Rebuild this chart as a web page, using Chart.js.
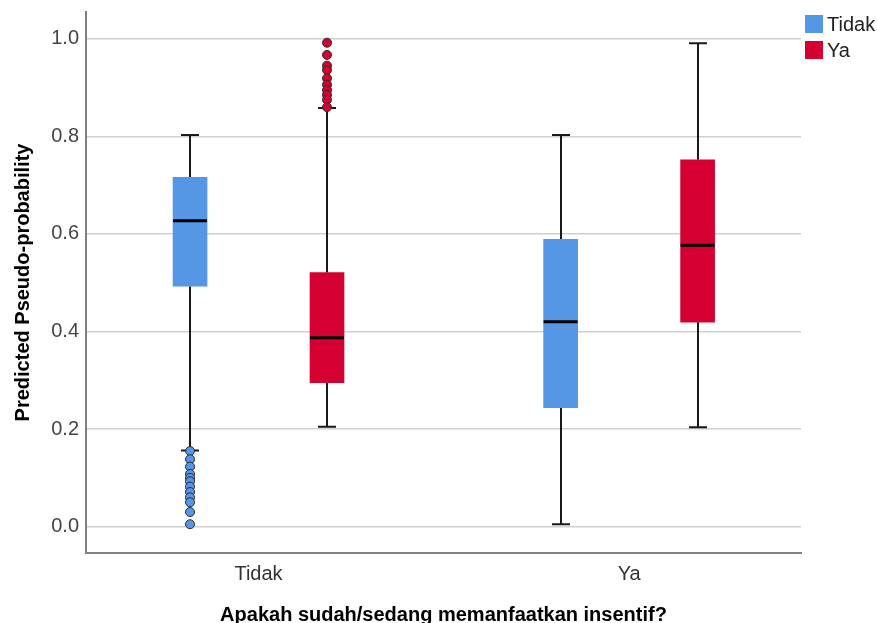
<!DOCTYPE html>
<html>
<head>
<meta charset="utf-8">
<script src="https://cdn.jsdelivr.net/npm/chart.js@4/dist/chart.umd.min.js"></script>
<style>
  html, body { margin: 0; padding: 0; background: #ffffff; }
  #wrap { width: 877px; height: 623px; }
</style>
</head>
<body>
<div id="wrap"><canvas id="c" width="877" height="623"></canvas></div>
<script>
// Groups on the x axis and the two series drawn in each group
const categories = ['Tidak', 'Ya'];
const seriesNames = ['Tidak', 'Ya'];
const seriesColors = ['#5596e5', '#d50032'];
const yTickValues = [0.0, 0.2, 0.4, 0.6, 0.8, 1.0];

// Five-number summaries, one value per category (Tidak, Ya)
const tidakLow = [0.156, 0.005];
const tidakQ1 = [0.493, 0.244];
const tidakMedian = [0.627, 0.420];
const tidakQ3 = [0.716, 0.589];
const tidakHigh = [0.803, 0.803];

const yaLow = [0.205, 0.204];
const yaQ1 = [0.295, 0.419];
const yaMedian = [0.387, 0.577];
const yaQ3 = [0.521, 0.752];
const yaHigh = [0.858, 0.991];

// Outlying cases, all in the "Tidak" category
const tidakOutliers = [0.155, 0.138, 0.123, 0.108, 0.100, 0.093, 0.082, 0.071, 0.060, 0.050, 0.030, 0.005];
const yaOutliers = [0.992, 0.967, 0.945, 0.936, 0.919, 0.906, 0.895, 0.885, 0.875, 0.860];
const outlierCategory = 0;

// Side-by-side placement of the two series inside a group (x-axis units)
const seriesShift = [-0.1848, 0.1848];

const summaries = [
  { low: tidakLow, q1: tidakQ1, med: tidakMedian, q3: tidakQ3, high: tidakHigh },
  { low: yaLow, q1: yaQ1, med: yaMedian, q3: yaQ3, high: yaHigh }
];

const FONT = "'Liberation Sans', Arial, sans-serif";

const boxDatasets = summaries.map((s, si) => ({
  type: 'bar',
  label: seriesNames[si],
  data: categories.map((c, ci) => ({ x: ci + seriesShift[si], y: [s.q1[ci], s.q3[ci]] })),
  backgroundColor: seriesColors[si],
  borderWidth: 0,
  barThickness: 34,
  grouped: false,
  order: 2
}));

const outlierDatasets = [tidakOutliers, yaOutliers].map((vals, si) => ({
  type: 'scatter',
  label: seriesNames[si] + ' outliers',
  data: vals.map(v => ({ x: outlierCategory + seriesShift[si], y: v })),
  pointRadius: 4.5,
  pointBackgroundColor: seriesColors[si],
  pointBorderColor: '#2b2b2b',
  pointBorderWidth: 1,
  showLine: false,
  order: 1
}));

// Whiskers with caps, drawn underneath boxes and outlier points
const whiskerPlugin = {
  id: 'whiskers',
  beforeDatasetsDraw(chart) {
    const ctx = chart.ctx;
    const y = chart.scales.y;
    ctx.save();
    ctx.strokeStyle = '#1a1a1a';
    ctx.lineWidth = 2;
    summaries.forEach((s, si) => {
      const meta = chart.getDatasetMeta(si);
      meta.data.forEach((el, ci) => {
        const cx = Math.round(el.x);
        const capHalf = 9;
        const yHigh = y.getPixelForValue(s.high[ci]);
        const yQ3 = y.getPixelForValue(s.q3[ci]);
        const yQ1 = y.getPixelForValue(s.q1[ci]);
        const yLow = y.getPixelForValue(s.low[ci]);
        ctx.beginPath();
        ctx.moveTo(cx, yHigh); ctx.lineTo(cx, yQ3);
        ctx.moveTo(cx, yQ1); ctx.lineTo(cx, yLow);
        ctx.moveTo(cx - capHalf, yHigh); ctx.lineTo(cx + capHalf, yHigh);
        ctx.moveTo(cx - capHalf, yLow); ctx.lineTo(cx + capHalf, yLow);
        ctx.stroke();
      });
    });
    ctx.restore();
  },
  afterDatasetsDraw(chart) {
    const ctx = chart.ctx;
    const y = chart.scales.y;
    ctx.save();
    ctx.strokeStyle = '#000000';
    ctx.lineWidth = 3;
    summaries.forEach((s, si) => {
      const meta = chart.getDatasetMeta(si);
      meta.data.forEach((el, ci) => {
        const ym = y.getPixelForValue(s.med[ci]);
        ctx.beginPath();
        ctx.moveTo(el.x - el.width / 2, ym);
        ctx.lineTo(el.x + el.width / 2, ym);
        ctx.stroke();
      });
    });
    ctx.restore();
  }
};

// Legend block to the right of the plot
const sideLegendPlugin = {
  id: 'sideLegend',
  afterDraw(chart) {
    const ctx = chart.ctx;
    const left = chart.chartArea.right + 4;
    ctx.save();
    ctx.font = '20px ' + FONT;
    ctx.textBaseline = 'middle';
    ctx.textAlign = 'left';
    seriesNames.forEach((name, i) => {
      const top = chart.chartArea.top + 3 + i * 26;
      ctx.fillStyle = seriesColors[i];
      ctx.fillRect(left, top, 18, 18);
      ctx.fillStyle = '#222222';
      ctx.fillText(name, left + 22, top + 10);
    });
    ctx.restore();
  }
};

new Chart(document.getElementById('c'), {
  type: 'bar',
  data: { datasets: [...boxDatasets, ...outlierDatasets] },
  plugins: [whiskerPlugin, sideLegendPlugin],
  options: {
    responsive: false,
    animation: false,
    layout: { padding: { top: 12, right: 76, left: 0, bottom: 0 } },
    plugins: { legend: { display: false }, tooltip: { enabled: false } },
    scales: {
      x: {
        type: 'linear',
        min: -0.4655,
        max: 1.4638,
        offset: false,
        afterFit(scale) {
          scale.height = 70;
          scale.paddingLeft = 0;
          scale.paddingRight = 0;
        },
        afterBuildTicks(axis) { axis.ticks = categories.map((c, i) => ({ value: i })); },
        ticks: {
          callback: (v) => categories[v],
          font: { family: FONT, size: 20 },
          color: '#333333',
          padding: 9,
          maxRotation: 0,
          autoSkip: false
        },
        grid: { display: false, drawTicks: false },
        border: { display: true, color: '#808080', width: 2 },
        title: {
          display: true,
          text: 'Apakah sudah/sedang memanfaatkan insentif?',
          font: { family: FONT, size: 20, weight: 'bold', lineHeight: 0.8 },
          color: '#000000',
          padding: { top: 0, bottom: 0 }
        }
      },
      y: {
        min: -0.054,
        max: 1.055,
        afterFit(scale) {
          scale.width = 86;
          scale.paddingTop = 0;
          scale.paddingBottom = 0;
        },
        afterBuildTicks(axis) { axis.ticks = yTickValues.map(v => ({ value: v })); },
        ticks: {
          callback: (v) => v.toFixed(1),
          font: { family: FONT, size: 20 },
          color: '#444444',
          padding: 7
        },
        grid: { color: '#d0d0d0', lineWidth: 1.5, drawTicks: false },
        border: { display: true, color: '#808080', width: 2 },
        title: {
          display: true,
          text: 'Predicted Pseudo-probability',
          font: { family: FONT, size: 20, weight: 'bold', lineHeight: 1.2 },
          color: '#000000',
          padding: { top: 11.5, bottom: 0 }
        }
      }
    }
  }
});
</script>
</body>
</html>
